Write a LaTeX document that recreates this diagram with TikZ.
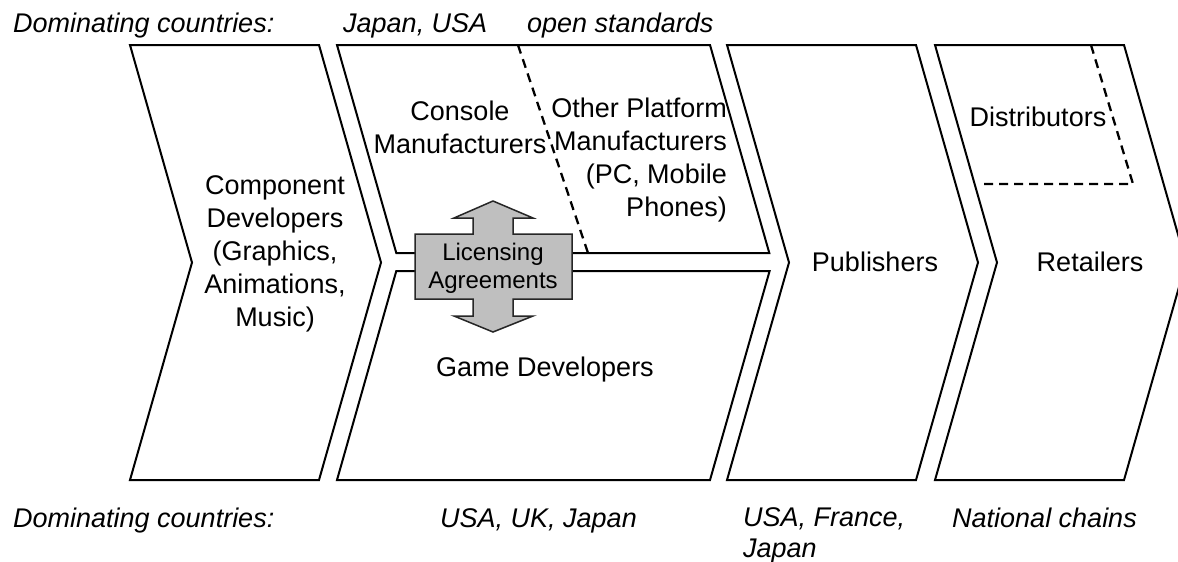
\documentclass[tikz,border=0pt]{standalone}
\usepackage{fontspec}
\setmainfont{Liberation Sans}
\usepackage{xcolor}

\begin{document}
\begin{tikzpicture}[
    x=1pt, y=-1pt,
    stage/.style={draw, line width=2pt, line join=miter, fill=white},
    split/.style={draw, line width=2.3pt, dash pattern=on 9pt off 6pt},
    license/.style={draw=black!85, line width=1.5pt, fill=black!25, line join=miter},
    body/.style={inner sep=0pt, font=\fontsize{27}{33}\selectfont},
    note/.style={inner sep=0pt, font=\fontsize{27}{31}\selectfont\itshape}
]
\fill[white] (0,0) rectangle (1178,562);
\useasboundingbox (0,0) rectangle (1178,562);

% value chain stages
\draw[stage] (130,45) -- (319,45) -- (381,262.5) -- (319,480) -- (130,480) -- (192,262.5) -- cycle;
\draw[stage] (337,45) -- (710,45) -- (769.3,253) -- (396.3,253) -- cycle;
\draw[stage] (396.3,271) -- (769.6,271) -- (710,480) -- (337,480) -- cycle;
\draw[stage] (727,45) -- (916,45) -- (978,262.5) -- (916,480) -- (727,480) -- (789,262.5) -- cycle;
\begin{scope}
\clip (0,0) rectangle (1178,562);
\draw[stage] (935,45) -- (1124,45) -- (1186,262.5) -- (1124,480) -- (935,480) -- (997,262.5) -- cycle;
\end{scope}

\draw[split] (518,45) -- (588,253);
\draw[split] (1091,45) -- (1133,184) -- (982,184);

% licensing cross
\draw[license] (415,234) -- (473,234) -- (473,218) -- (454,218) -- (493,201) -- (533,218)
    -- (513,218) -- (513,234) -- (572,234) -- (572,299) -- (513,299) -- (513,316)
    -- (533,316) -- (493,332) -- (454,316) -- (473,316) -- (473,299) -- (415,299) -- cycle;

\node[body, align=center] (comp) at (275,254) {Component\\Developers\\(Graphics,\\Animations,\\Music)};
\node[body, align=center] (console) at (460,127.5) {Console\\Manufacturers};
\node[body, align=right, anchor=east] (other) at (727,160) {Other Platform\\Manufacturers\\(PC, Mobile\\Phones)};
\node[body] (game) at (545,370) {Game Developers};
\node[inner sep=0pt, align=center, font=\fontsize{24}{28}\selectfont] (lic) at (493,268) {Licensing\\Agreements};
\node[body] (pub) at (875,262) {Publishers};
\node[body] (ret) at (1090,262) {Retailers};
\node[body] (dist) at (1038,117) {Distributors};

% Top row labels
\node[note, anchor=base west] (domtop) at (13,32) {Dominating countries:};
\node[note, anchor=base west] (jpus) at (343,32) {Japan, USA};
\node[note, anchor=base west] (open) at (527,32) {open standards};

% Bottom row labels
\node[note, anchor=base west] (dombot) at (13,527) {Dominating countries:};
\node[note, anchor=base west] (usuk) at (440,527) {USA, UK, Japan};
\node[note, anchor=north west, align=left] (usfr) at (743,507.7) {USA, France,\\Japan};
\node[note, anchor=base west] (chains) at (952,527) {National chains};

\end{tikzpicture}
\end{document}
